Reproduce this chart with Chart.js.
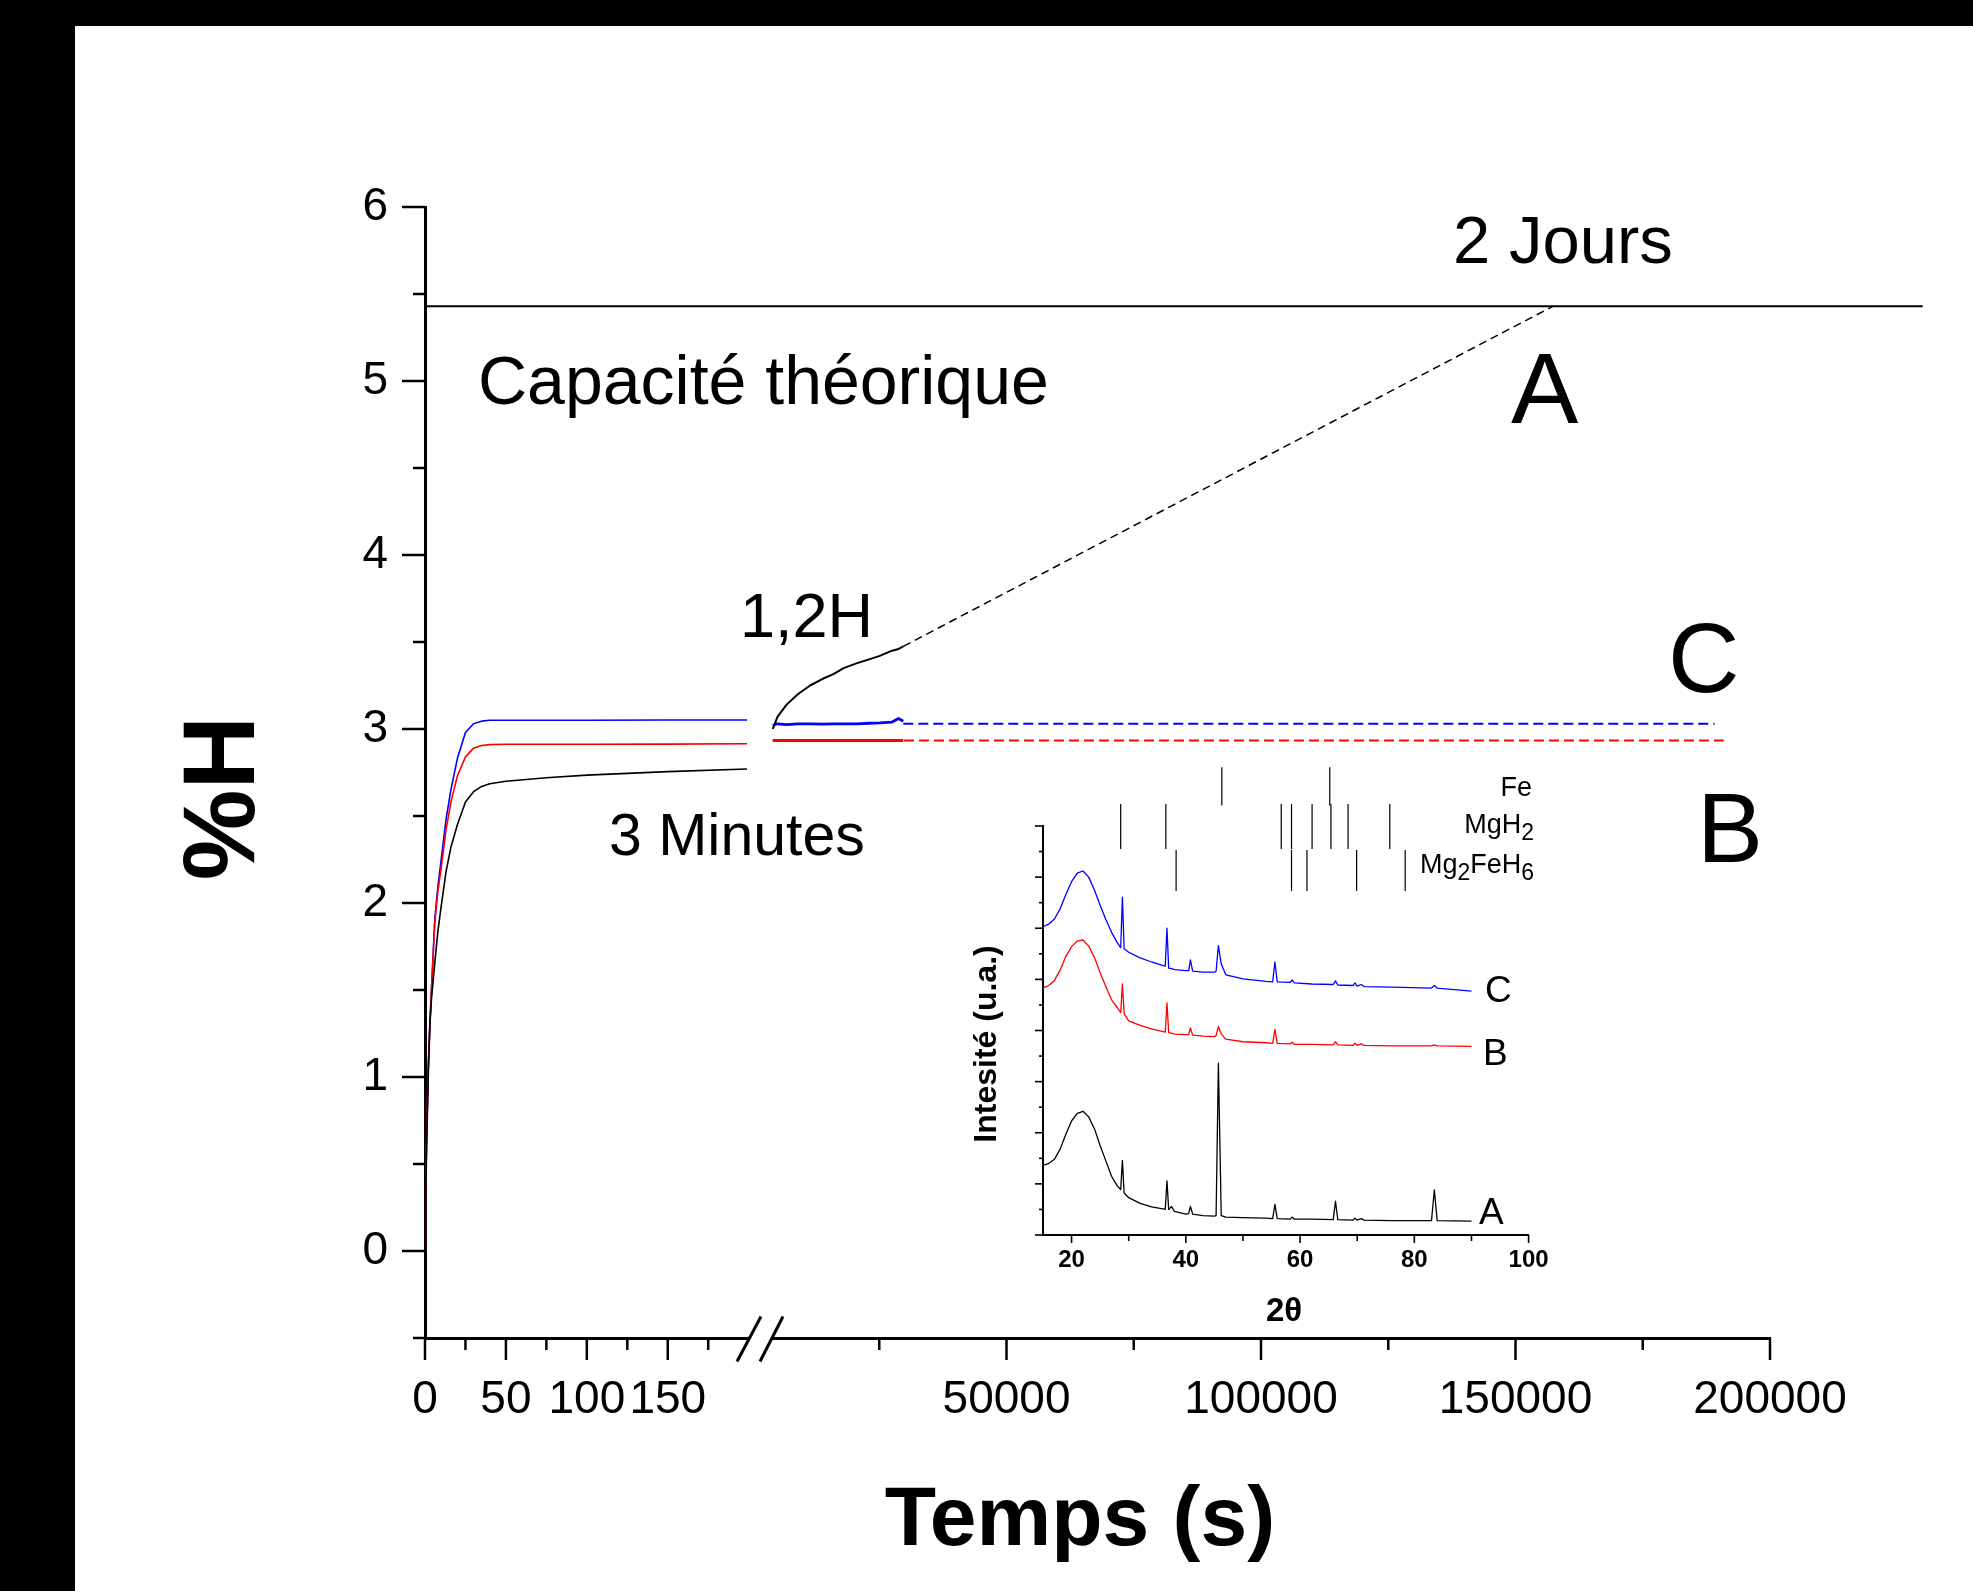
<!DOCTYPE html>
<html><head><meta charset="utf-8">
<script src="https://cdn.jsdelivr.net/npm/chart.js@4.4.1/dist/chart.umd.min.js"></script>
<style>
html,body{margin:0;padding:0;background:#000;width:1973px;height:1591px;overflow:hidden;}
#paper{position:absolute;left:75px;top:26px;width:1898px;height:1565px;background:#fff;}
canvas{position:absolute;left:0;top:0;width:1973px;height:1591px;}
</style></head><body>
<div id="paper"></div>
<canvas id="main" width="1973" height="1591"></canvas>
<canvas id="inset" width="1973" height="1591"></canvas>
<script>
// ---------- main chart data (hydrogen uptake, %H vs time) ----------
const tLeft       = [0,0.5,1,2,3,4,6,8,10,13,16,20,25,30,35,40,50,75,100,150,199];
const hBlueLeft   = [0,0.4,0.65,1.05,1.3,1.5,1.9,2.1,2.25,2.48,2.65,2.83,2.98,3.03,3.045,3.05,3.05,3.05,3.05,3.052,3.052];
const hRedLeft    = [0,0.4,0.65,1.05,1.3,1.5,1.88,2.07,2.2,2.42,2.58,2.73,2.84,2.89,2.905,2.91,2.912,2.912,2.912,2.913,2.915];
const hBlackLeft  = [0,0.35,0.6,1.0,1.3,1.45,1.65,1.84,1.98,2.18,2.32,2.45,2.58,2.64,2.67,2.685,2.70,2.72,2.735,2.755,2.77];
const tRight      = [4065,5000,6800,9000,11400,14000,16000,18000,20500,23000,25100,27500,28800,29720];
const hBlackRight = [3.00,3.07,3.14,3.20,3.25,3.29,3.315,3.35,3.377,3.40,3.42,3.45,3.46,3.475];
const hBlueRight  = [3.02,3.03,3.025,3.03,3.03,3.028,3.03,3.03,3.03,3.033,3.035,3.04,3.06,3.045];
const hRedRight   = [2.934,2.934,2.934,2.934,2.934,2.934,2.934,2.934,2.934,2.934,2.934,2.934,2.934,2.934];
const tDashBlack  = [29720,157400]; const hDashBlack = [3.475,5.43];
const tDashBlue   = [29720,189100]; const hDashBlue  = [3.03,3.03];
const tDashRed    = [29850,190900]; const hDashRed   = [2.934,2.934];
const tTheoLeft   = [0,207];        const tTheoRight = [1570,230000];
const hTheo       = [5.43,5.43];
const yMajor  = [0,1,2,3,4,5,6];
const yMinor  = [-0.5,0.5,1.5,2.5,3.5,4.5,5.5];
const x1Major = [0,50,100,150];
const x1Minor = [25,75,125,175];
const x2Major = [50000,100000,150000,200000];
const x2Minor = [25000,75000,125000,175000];

// ---------- inset data (XRD) ----------
const theta = [15,16,17,18,19,20,21,22,23,24,25,26,27,28,28.6,28.9,29.2,30,32,34,36,36.4,36.7,37.0,37.5,38,40,40.5,40.8,41.2,43,45,45.3,45.7,46.2,47,50,54,55.2,55.6,56,58.3,58.6,59,62,65.8,66.2,66.6,69.3,69.6,70,70.7,71.2,76,83,83.5,84,90];
const xrdC = [6.03,6.08,6.18,6.38,6.66,6.91,7.08,7.12,7.00,6.75,6.45,6.17,5.92,5.72,5.62,6.61,5.60,5.53,5.42,5.34,5.27,5.26,6.00,5.22,5.21,5.19,5.17,5.17,5.38,5.16,5.14,5.14,5.16,5.66,5.30,5.09,5.01,4.96,4.95,5.34,4.95,4.94,4.99,4.93,4.91,4.90,4.97,4.89,4.88,4.93,4.87,4.90,4.86,4.85,4.83,4.88,4.83,4.77];
const xrdB = [4.83,4.88,4.98,5.18,5.45,5.64,5.75,5.77,5.65,5.43,5.13,4.86,4.60,4.45,4.35,4.91,4.33,4.19,4.10,4.03,3.98,3.97,4.54,3.96,3.95,3.93,3.92,3.92,4.05,3.91,3.89,3.88,3.90,4.08,3.93,3.83,3.78,3.76,3.75,4.02,3.75,3.74,3.77,3.73,3.73,3.72,3.78,3.72,3.71,3.75,3.71,3.74,3.71,3.70,3.70,3.72,3.70,3.69];
const xrdA = [1.36,1.40,1.48,1.68,1.97,2.23,2.38,2.42,2.31,2.08,1.75,1.45,1.15,0.96,0.89,1.46,0.82,0.73,0.62,0.55,0.51,0.50,1.06,0.50,0.56,0.46,0.41,0.42,0.56,0.41,0.38,0.37,0.38,3.36,0.38,0.35,0.34,0.33,0.32,0.60,0.32,0.31,0.35,0.31,0.31,0.30,0.66,0.30,0.29,0.33,0.29,0.32,0.29,0.28,0.28,0.88,0.28,0.27];
const feLines     = [46.3,65.2];                              const feSpan     = [8.40,9.15];
const mgh2Lines   = [28.6,36.5,56.7,58.5,62.1,65.4,68.4,75.7]; const mgh2Span   = [7.55,8.43];
const mg2fehLines = [38.3,58.5,61.2,69.9,78.4];              const mg2fehSpan = [6.73,7.53];
const insetXMajor = [20,40,60,80,100];
const insetXMinor = [30,50,70,90];
const insetYMajor = [0,1,2,3,4,5,6,7,8];
const insetYMinor = [0.5,1.5,2.5,3.5,4.5,5.5,6.5,7.5];

const FONT = '"Liberation Sans", Arial, Helvetica, sans-serif';
const BLUE = '#0000ff', RED = '#ff0000', BLACK = '#000000';

function pts(xs, ys){ return xs.map((x,i)=>({x:x, y:ys[i]})); }
function sticks(pos, span){ const d=[]; pos.forEach(p=>{ d.push({x:p,y:span[0]},{x:p,y:span[1]},{x:p,y:null}); }); return d; }
function ds(data, color, width, xAxisID, extra){
  return Object.assign({data, borderColor:color, backgroundColor:color, borderWidth:width, pointRadius:0,
    showLine:true, xAxisID, yAxisID:'y', borderJoinStyle:'round', borderCapStyle:'butt'}, extra||{});
}
function setTicks(arr){ return s => { s.ticks = arr.map(v=>({value:v})); }; }

function drawText(ctx, s, x, y, size, bold, align, base){
  ctx.font = (bold?'bold ':'') + size + 'px ' + FONT;
  ctx.textAlign = align || 'left';
  ctx.textBaseline = base || 'alphabetic';
  ctx.fillStyle = '#000';
  ctx.fillText(s, x, y);
}
function seg(ctx, a, b, c, d, w){ ctx.lineWidth = w; ctx.beginPath(); ctx.moveTo(a,b); ctx.lineTo(c,d); ctx.stroke(); }

const mainDecor = {
  id:'mainDecor',
  afterDraw(chart){
    const ctx = chart.ctx; const ys = chart.scales.y, x1 = chart.scales.x1, x2 = chart.scales.x2;
    ctx.save();
    ctx.strokeStyle = '#000'; ctx.lineCap = 'butt';
    const yx = ys.right;
    yMajor.forEach(v=>{ const p = ys.getPixelForValue(v); seg(ctx, yx-23, p, yx, p, 2.5); });
    yMinor.forEach(v=>{ const p = ys.getPixelForValue(v); seg(ctx, yx-12, p, yx, p, 2.5); });
    const xy = x1.top;
    [[x1,x1Major,22],[x1,x1Minor,12],[x2,x2Major,22],[x2,x2Minor,12]].forEach(([s,arr,len])=>{
      arr.forEach(v=>{ const p = s.getPixelForValue(v); seg(ctx, p, xy, p, xy+len, 2.5); });
    });
    // axis break
    const bx = x1.right;
    ctx.fillStyle = '#fff'; ctx.fillRect(bx-10, xy-4, 21, 9);
    seg(ctx, bx-23, xy+23.5, bx+1, xy-21.5, 3);
    seg(ctx, bx, xy+23.5, bx+23, xy-21.5, 3);
    // annotations
    drawText(ctx, 'Capacité théorique', 478, 404, 68);
    drawText(ctx, '2 Jours', 1453, 263, 67);
    drawText(ctx, 'A', 1511, 423, 101);
    drawText(ctx, 'C', 1668, 692, 99);
    drawText(ctx, 'B', 1697, 862, 99);
    drawText(ctx, '1,2H', 740, 637, 63);
    drawText(ctx, '3 Minutes', 609, 855, 59);
    drawText(ctx, 'Temps (s)', 1080, 1545, 84, true, 'center');
    ctx.translate(226, 798); ctx.rotate(-Math.PI/2);
    drawText(ctx, '%H', 0, 0, 102, true, 'center', 'middle');
    ctx.restore();
  }
};

const tickFont = {family: FONT, size: 46};
new Chart(document.getElementById('main'), {
  type:'scatter',
  data:{ datasets:[
    ds(pts(tTheoLeft, hTheo), BLACK, 2, 'x1'),
    ds(pts(tTheoRight, hTheo), BLACK, 2, 'x2', {clip:false}),
    ds(pts(tLeft, hBlackLeft), BLACK, 1.6, 'x1'),
    ds(pts(tLeft, hRedLeft), RED, 1.6, 'x1'),
    ds(pts(tLeft, hBlueLeft), BLUE, 1.6, 'x1'),
    ds(pts(tRight, hBlackRight), BLACK, 2, 'x2'),
    ds(pts(tRight, hRedRight), RED, 3, 'x2'),
    ds(pts(tRight, hBlueRight), BLUE, 2.8, 'x2'),
    ds(pts(tDashBlack, hDashBlack), BLACK, 1.5, 'x2', {borderDash:[8,5]}),
    ds(pts(tDashBlue, hDashBlue), BLUE, 2, 'x2', {borderDash:[10,5]}),
    ds(pts(tDashRed, hDashRed), RED, 2, 'x2', {borderDash:[10,5]})
  ]},
  options:{
    responsive:false, animation:false, devicePixelRatio:1, events:[],
    layout:{ autoPadding:false, padding:{left:0, top:207, right:203, bottom:153} },
    plugins:{ legend:{display:false}, tooltip:{enabled:false} },
    scales:{
      y:{ type:'linear', position:'left', min:-0.5, max:6,
          afterBuildTicks:setTicks(yMajor), afterFit:s=>{ s.width = 425; },
          grid:{display:false, drawTicks:false, tickLength:0},
          border:{display:true, color:'#000', width:3},
          ticks:{color:'#000', font:tickFont, padding:37, callback:v=>String(v)} },
      x1:{ type:'linear', axis:'x', position:'bottom', stack:'time', stackWeight:335, min:0, max:207,
          afterBuildTicks:setTicks(x1Major), afterFit:s=>{ s.height = 100; },
          grid:{display:false, drawTicks:false, tickLength:0},
          border:{display:true, color:'#000', width:3},
          ticks:{color:'#000', font:tickFont, padding:35, autoSkip:false, maxRotation:0, minRotation:0, callback:v=>String(v)} },
      x2:{ type:'linear', axis:'x', position:'bottom', stack:'time', stackWeight:1010, min:1570, max:200000,
          afterBuildTicks:setTicks(x2Major), afterFit:s=>{ s.height = 100; },
          grid:{display:false, drawTicks:false, tickLength:0},
          border:{display:true, color:'#000', width:3},
          ticks:{color:'#000', font:tickFont, padding:35, autoSkip:false, maxRotation:0, minRotation:0, callback:v=>String(v)} }
    }
  },
  plugins:[mainDecor]
});

// ---------- inset ----------
function drawChem(ctx, parts, right, base, size, subSize, subDrop){
  let total = 0;
  parts.forEach(p=>{ ctx.font = (p.sub?subSize:size)+'px '+FONT; total += ctx.measureText(p.t).width; });
  let x = right - total;
  parts.forEach(p=>{
    ctx.font = (p.sub?subSize:size)+'px '+FONT;
    ctx.textAlign='left'; ctx.textBaseline='alphabetic'; ctx.fillStyle='#000';
    ctx.fillText(p.t, x, base + (p.sub?subDrop:0));
    x += ctx.measureText(p.t).width;
  });
}
const insetDecor = {
  id:'insetDecor',
  afterDraw(chart){
    const ctx = chart.ctx; const xs = chart.scales.x, ys = chart.scales.y;
    ctx.save(); ctx.strokeStyle = '#000';
    insetYMajor.forEach(v=>{ const p = ys.getPixelForValue(v); seg(ctx, ys.right-8, p, ys.right, p, 1.6); });
    insetYMinor.forEach(v=>{ const p = ys.getPixelForValue(v); seg(ctx, ys.right-4, p, ys.right, p, 1.6); });
    insetXMajor.forEach(v=>{ const p = xs.getPixelForValue(v); seg(ctx, p, xs.top, p, xs.top+8, 1.6); });
    insetXMinor.forEach(v=>{ const p = xs.getPixelForValue(v); seg(ctx, p, xs.top, p, xs.top+6, 1.6); });
    drawText(ctx, 'C', 1485, 1002, 37);
    drawText(ctx, 'B', 1483, 1065, 37);
    drawText(ctx, 'A', 1479, 1224, 37);
    drawChem(ctx, [{t:'Fe'}], 1532, 796, 27, 23, 7);
    drawChem(ctx, [{t:'MgH'},{t:'2',sub:true}], 1534, 833, 27, 23, 7);
    drawChem(ctx, [{t:'Mg'},{t:'2',sub:true},{t:'FeH'},{t:'6',sub:true}], 1534, 873, 27, 23, 7);
    drawText(ctx, '2θ', 1284, 1321, 33, true, 'center');
    ctx.translate(987, 1044); ctx.rotate(-Math.PI/2);
    drawText(ctx, 'Intesité (u.a.)', 0, 0, 32, true, 'center', 'middle');
    ctx.restore();
  }
};
function ids(data, color, width, extra){
  return Object.assign({data, borderColor:color, backgroundColor:color, borderWidth:width, pointRadius:0,
    showLine:true, spanGaps:false, borderJoinStyle:'round'}, extra||{});
}
new Chart(document.getElementById('inset'), {
  type:'scatter',
  data:{ datasets:[
    ids(pts(theta, xrdA), BLACK, 1.3),
    ids(pts(theta, xrdB), RED, 1.3),
    ids(pts(theta, xrdC), BLUE, 1.3),
    ids(sticks(feLines, feSpan), BLACK, 1.2, {clip:false}),
    ids(sticks(mgh2Lines, mgh2Span), BLACK, 1.2, {clip:false}),
    ids(sticks(mg2fehLines, mg2fehSpan), BLACK, 1.2, {clip:false})
  ]},
  options:{
    responsive:false, animation:false, devicePixelRatio:1, events:[],
    layout:{ autoPadding:false, padding:{left:983, top:826, right:444.4, bottom:306} },
    plugins:{ legend:{display:false}, tooltip:{enabled:false} },
    scales:{
      x:{ type:'linear', position:'bottom', min:15, max:100,
          afterBuildTicks:setTicks(insetXMajor), afterFit:s=>{ s.height = 50; },
          grid:{display:false, drawTicks:false, tickLength:0},
          border:{display:true, color:'#000', width:2},
          ticks:{color:'#000', font:{family:FONT, size:24, weight:'bold'}, padding:11, autoSkip:false, maxRotation:0, minRotation:0, callback:v=>String(v)} },
      y:{ type:'linear', position:'left', min:0, max:8,
          afterFit:s=>{ s.width = 60; },
          grid:{display:false, drawTicks:false, tickLength:0},
          border:{display:true, color:'#000', width:2},
          ticks:{display:false} }
    }
  },
  plugins:[insetDecor]
});
</script></body></html>
